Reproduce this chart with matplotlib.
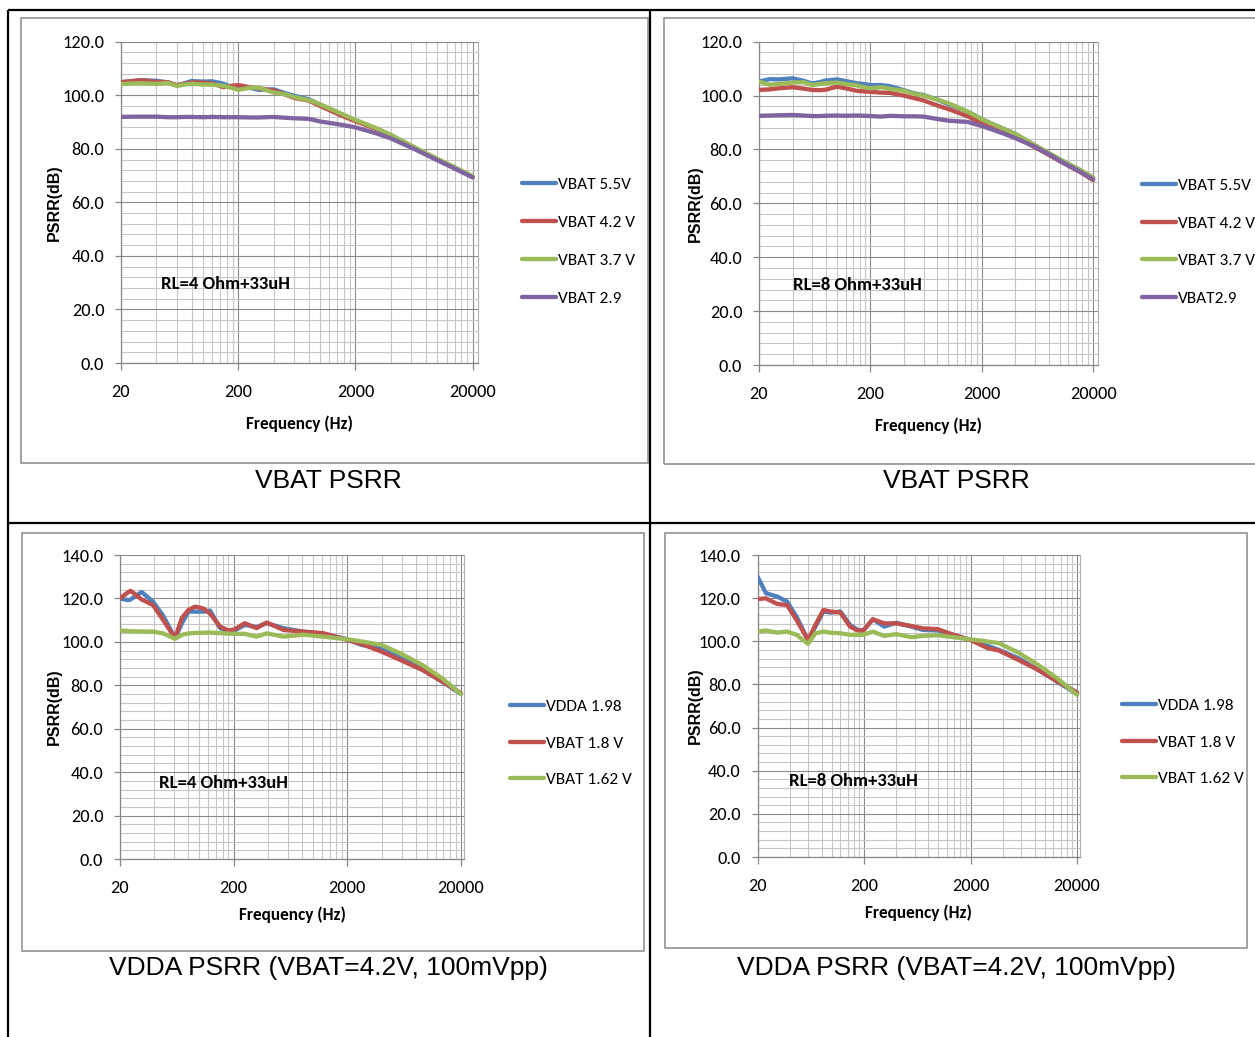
import matplotlib
matplotlib.use('Agg')
import matplotlib.pyplot as plt
from matplotlib.lines import Line2D
from matplotlib.patches import Rectangle
from matplotlib.ticker import FixedLocator, FixedFormatter, MultipleLocator, NullFormatter, FormatStrFormatter

# ---------------- data ----------------
freq_top = [20, 25, 30, 40, 50, 60, 70, 80, 100, 120, 150, 180, 200, 250, 300, 400, 500,
            600, 800, 1000, 1500, 2000, 3000, 4000, 6000, 8000, 10000, 15000, 20000]

p1_labels = ['VBAT 5.5V', 'VBAT 4.2 V', 'VBAT 3.7 V', 'VBAT 2.9']
p1_vbat55 = [104.8, 105.3, 105.6, 105.4, 104.8, 103.6, 104.5, 105.3, 105.1, 105.2, 104.3, 102.8, 102.5,
             102.8, 102.0, 102.2, 100.8, 99.8, 98.5, 96.5, 93.0, 90.6, 87.6, 85.1, 81.0, 78.2, 76.1, 72.3, 69.6]
p1_vbat42 = [104.9, 105.3, 105.6, 105.0, 104.9, 103.8, 104.3, 104.8, 104.7, 104.4, 103.0, 103.6, 103.8,
             103.0, 102.6, 101.8, 100.3, 99.0, 98.0, 96.0, 92.5, 90.3, 87.4, 85.0, 80.9, 78.1, 76.0, 72.2, 69.5]
p1_vbat37 = [104.2, 104.4, 104.5, 104.2, 104.6, 103.5, 104.0, 104.3, 104.0, 104.0, 103.5, 102.6, 102.0,
             102.8, 102.8, 101.0, 100.4, 99.3, 98.2, 96.6, 93.2, 90.8, 87.7, 85.2, 81.2, 78.4, 76.3, 72.5, 69.8]
p1_vbat29 = [91.9, 92.0, 92.0, 92.0, 91.8, 91.8, 91.9, 91.9, 91.8, 91.9, 91.8, 91.8, 91.8,
             91.7, 91.7, 91.9, 91.6, 91.4, 91.2, 90.2, 89.0, 88.0, 85.8, 83.9, 80.4, 77.8, 75.7, 72.0, 69.3]

p2_labels = ['VBAT 5.5V', 'VBAT 4.2 V', 'VBAT 3.7 V', 'VBAT2.9']
p2_vbat55 = [105.2, 106.1, 106.0, 106.4, 105.5, 104.5, 105.0, 105.6, 106.0, 105.4, 104.6, 104.2, 103.9,
             103.9, 103.5, 102.0, 100.8, 100.2, 98.5, 96.8, 94.0, 91.2, 88.0, 85.8, 81.5, 78.6, 76.3, 72.5, 69.5]
p2_vbat42 = [102.1, 102.3, 102.7, 103.1, 102.6, 102.1, 102.0, 102.2, 103.3, 102.7, 101.8, 101.5, 101.4,
             101.1, 101.0, 100.0, 99.0, 98.2, 96.3, 95.0, 92.3, 89.7, 87.0, 85.0, 80.8, 78.0, 75.7, 71.8, 68.6]
p2_vbat37 = [105.2, 104.0, 104.3, 104.8, 105.0, 103.9, 104.3, 104.6, 104.8, 104.3, 103.8, 103.0, 102.7,
             103.1, 102.5, 101.8, 100.6, 100.0, 98.5, 97.2, 94.0, 91.2, 88.0, 85.8, 81.6, 78.7, 76.4, 72.6, 69.6]
p2_vbat29 = [92.5, 92.6, 92.7, 92.8, 92.6, 92.4, 92.4, 92.5, 92.6, 92.5, 92.6, 92.5, 92.4,
             92.2, 92.5, 92.3, 92.3, 92.2, 91.3, 90.7, 90.2, 88.7, 86.2, 84.2, 81.0, 78.2, 75.8, 71.9, 68.9]

freq_p3 = [20, 23.5, 24.8, 31, 39, 48, 61, 70, 80, 91.5, 108, 124, 152, 180, 205, 250, 318, 390,
           547, 820, 1220, 2000, 2660, 4000, 6000, 9100, 13600, 20000]
p3_labels = ['VDDA 1.98', 'VBAT 1.8 V', 'VBAT 1.62 V']
p3_vdda198 = [120.0, 119.2, 119.5, 123.0, 118.5, 112.0, 101.7, 108.5, 113.9, 113.9, 113.9, 114.4, 106.3, 104.7,
              105.3, 107.8, 106.8, 108.6, 106.3, 104.7, 103.8, 101.2, 98.6, 97.0, 92.4, 87.4, 81.7, 76.0]
p3_vbat18 = [120.0, 122.8, 123.5, 119.5, 117.0, 110.0, 101.7, 111.0, 114.7, 116.2, 115.4, 113.0, 107.0, 105.2,
             105.8, 108.6, 106.3, 108.9, 105.5, 104.7, 104.0, 100.9, 99.0, 95.5, 91.4, 87.1, 81.8, 76.4]
p3_vbat162 = [105.2, 105.0, 104.9, 104.8, 104.7, 103.9, 101.4, 103.2, 103.9, 104.1, 104.2, 104.3, 104.0, 103.8,
              103.7, 103.7, 102.4, 103.9, 102.4, 103.3, 102.4, 101.2, 100.2, 98.6, 94.4, 89.4, 83.3, 76.0]

freq_p4 = [20, 24, 30.7, 37.9, 46.5, 59.6, 70, 83, 97, 120, 148, 174, 197, 242, 310, 400, 556,
           712, 990, 1380, 2000, 2900, 3700, 5600, 8600, 13000, 20000]
p4_labels = ['VDDA 1.98', 'VBAT 1.8 V', 'VBAT 1.62 V']
p4_vdda198 = [130.0, 122.3, 120.7, 118.4, 111.4, 100.6, 106.8, 113.8, 113.3, 113.8, 107.6, 105.3, 105.0, 110.2,
              106.8, 108.6, 106.8, 105.3, 105.0, 103.0, 100.6, 97.9, 96.0, 92.2, 86.8, 81.3, 75.6]
p4_vbat18 = [119.6, 119.9, 117.3, 116.8, 109.9, 100.6, 107.6, 114.5, 113.8, 113.3, 106.8, 105.0, 105.0, 110.2,
             108.3, 108.3, 107.1, 106.0, 105.6, 103.0, 100.6, 96.8, 95.7, 91.4, 86.8, 81.5, 76.3]
p4_vbat162 = [104.5, 105.0, 104.0, 104.5, 103.0, 98.8, 103.7, 104.5, 104.0, 103.7, 103.0, 103.0, 103.0, 104.5,
              102.5, 103.3, 101.9, 102.5, 102.8, 101.9, 100.9, 99.9, 99.1, 94.8, 89.1, 82.9, 75.2]

x_ticks = [20, 200, 2000, 20000]
x_ticklabels = ['20', '200', '2000', '20000']
x_title = 'Frequency (Hz)'
y_title = 'PSRR(dB)'
notes = ['RL=4 Ohm+33uH', 'RL=8 Ohm+33uH', 'RL=4 Ohm+33uH', 'RL=8 Ohm+33uH']
captions = ['VBAT PSRR', 'VBAT PSRR', 'VDDA PSRR (VBAT=4.2V, 100mVpp)', 'VDDA PSRR (VBAT=4.2V, 100mVpp)']

# ---------------- styles ----------------
COLORS4 = ['#4F81BD', '#C0504D', '#9BBB59', '#8064A2']
CAL = ['Carlito', 'Liberation Sans', 'DejaVu Sans']
WIDE = ['Liberation Sans', 'DejaVu Sans']

W, H = 1255, 1037
fig = plt.figure(figsize=(W / 100, H / 100), dpi=100)
fig.patch.set_facecolor('white')


def fx(x):
    return x / W


def fy(y):
    return 1 - y / H


def line_px(x0, y0, x1, y1, **kw):
    fig.add_artist(Line2D([fx(x0), fx(x1)], [fy(y0), fy(y1)], transform=fig.transFigure, **kw))


# table lines
tbl = dict(color='black', lw=1.6, solid_capstyle='butt')
line_px(8, 10, 1255, 10, **tbl)
line_px(8, 10, 8, 1037, **tbl)
line_px(650, 10, 650, 1037, **tbl)
line_px(8, 523, 1255, 523, **tbl)

# chart boxes
for (x0, y0, x1, y1) in [(21, 18, 648, 463), (664, 18, 1265, 464), (22, 533, 644, 951), (665, 533, 1247, 948)]:
    fig.add_artist(Rectangle((fx(x0), fy(y1)), fx(x1) - fx(x0), fy(y0) - fy(y1), transform=fig.transFigure,
                             fill=False, edgecolor='#9a9a9a', lw=1.3))

panels = [
    dict(rect=(121, 41.7, 477.7, 363), xmax=22060, ymax=120, freq=freq_top,
         series=[p1_vbat55, p1_vbat42, p1_vbat37, p1_vbat29], labels=p1_labels,
         leg=(522, 241.5), ylab=(54, 203), xlab=(299, 424), note=(225, 284), cap=(328, 481)),
    dict(rect=(759, 41.7, 1098, 365), xmax=22100, ymax=120, freq=freq_top,
         series=[p2_vbat55, p2_vbat42, p2_vbat37, p2_vbat29], labels=p2_labels,
         leg=(1142, 242), ylab=(695, 204), xlab=(928, 426), note=(857, 285), cap=(956, 481)),
    dict(rect=(120, 555, 464, 859), xmax=21250, ymax=140, freq=freq_p3,
         series=[p3_vdda198, p3_vbat18, p3_vbat162], labels=p3_labels,
         leg=(510, 743), ylab=(54, 707), xlab=(292, 915), note=(223, 783), cap=(328, 968)),
    dict(rect=(757.5, 555, 1080, 857), xmax=21340, ymax=140, freq=freq_p4,
         series=[p4_vdda198, p4_vbat18, p4_vbat162], labels=p4_labels,
         leg=(1122, 742), ylab=(695, 706), xlab=(918, 913), note=(853, 781), cap=(956, 968)),
]

minor_x = [k * 20 * 10 ** d for d in range(4) for k in range(2, 10)]

for i, p in enumerate(panels):
    x0, y0, x1, y1 = p['rect']
    ax = fig.add_axes([fx(x0), fy(y1), fx(x1) - fx(x0), fy(y0) - fy(y1)])
    ax.set_xscale('log')
    ax.set_xlim(20, p['xmax'])
    ax.set_ylim(0, p['ymax'])
    ax.xaxis.set_major_locator(FixedLocator(x_ticks))
    ax.xaxis.set_major_formatter(FixedFormatter(x_ticklabels))
    ax.xaxis.set_minor_locator(FixedLocator(minor_x))
    ax.xaxis.set_minor_formatter(NullFormatter())
    ax.yaxis.set_major_locator(MultipleLocator(20))
    ax.yaxis.set_minor_locator(MultipleLocator(4))
    ax.yaxis.set_major_formatter(FormatStrFormatter('%.1f'))
    ax.grid(True, which='minor', color='#c6c6c6', lw=0.8, zorder=0)
    ax.grid(True, which='major', color='#8a8a8a', lw=0.8, zorder=0)
    ax.set_axisbelow(True)
    ax.spines['top'].set_visible(False)
    ax.spines['right'].set_color('#b0b0b0')
    ax.spines['right'].set_linewidth(0.8)
    for s in ['left', 'bottom']:
        ax.spines[s].set_color('#868686')
        ax.spines[s].set_linewidth(0.9)
    ax.tick_params(which='major', axis='y', direction='out', length=4, width=0.9, color='#868686', pad=8,
                   labelsize=13.2, labelcolor='black')
    ax.tick_params(which='major', axis='x', direction='out', length=5, width=0.9, color='#868686', pad=10,
                   labelsize=13.2, labelcolor='black')
    ax.tick_params(which='minor', length=0)
    for lab in ax.get_xticklabels() + ax.get_yticklabels():
        lab.set_family(CAL)
    handles = []
    for j, vals in enumerate(p['series']):
        ln, = ax.plot(p['freq'], vals, color=COLORS4[j], lw=3.1, solid_joinstyle='round',
                      solid_capstyle='round', label=p['labels'][j], zorder=3 + j)
        handles.append(ln)
    leg = ax.legend(handles=handles, loc='center left', bbox_to_anchor=(fx(p['leg'][0]), fy(p['leg'][1])),
                    bbox_transform=fig.transFigure, frameon=False, borderpad=0, borderaxespad=0,
                    handlelength=2.0, handletextpad=0.1,
                    labelspacing=1.32 if len(handles) == 4 else 1.26,
                    prop={'family': CAL, 'size': 12.4})
    for t in leg.get_texts():
        t.set_color('black')
    fig.text(fx(p['ylab'][0]), fy(p['ylab'][1]), y_title, rotation=90, ha='center', va='center',
             family=WIDE, weight='bold', size=11.5)
    fig.text(fx(p['xlab'][0]), fy(p['xlab'][1]), x_title, ha='center', va='center',
             family=CAL, weight='bold', size=12.4)
    fig.text(fx(p['note'][0]), fy(p['note'][1]), notes[i], ha='center', va='center',
             family=CAL, weight='bold', size=13.4)
    fig.text(fx(p['cap'][0]), fy(p['cap'][1]), captions[i], ha='center', va='center',
             family=WIDE, size=19)

fig.savefig('out.png', dpi=100, facecolor='white')
